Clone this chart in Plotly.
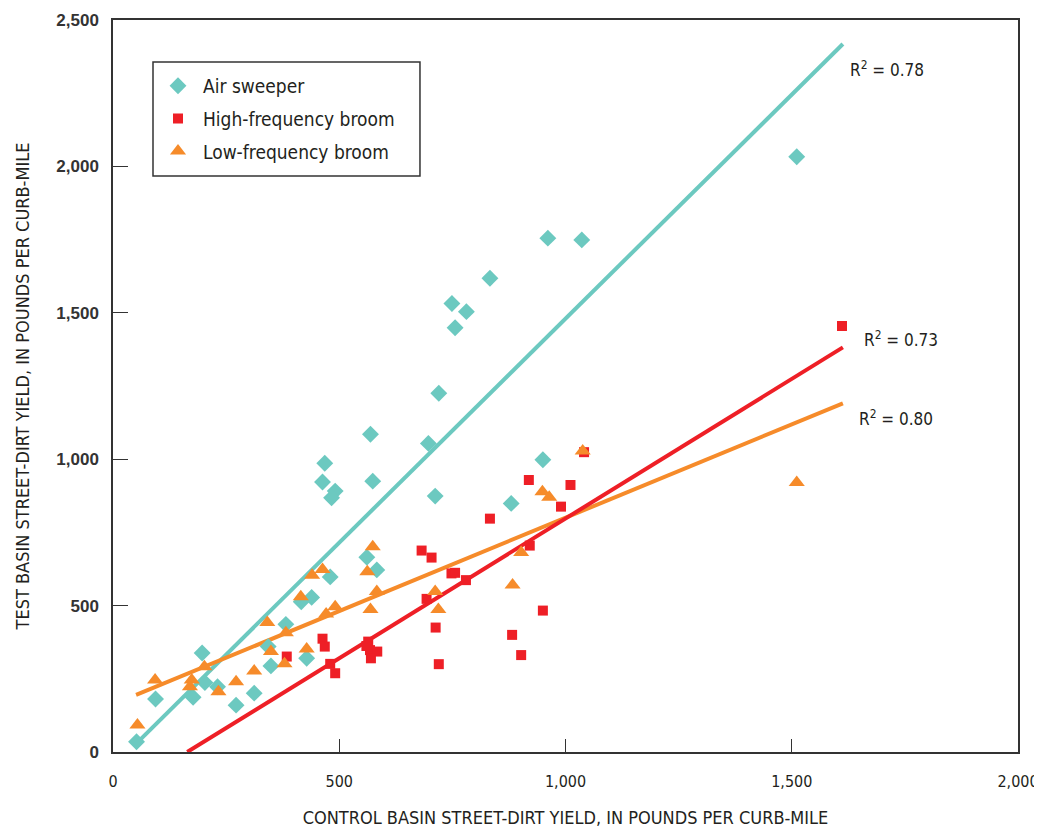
import plotly.graph_objects as go

# ---- data ----
air_x = [52, 94, 177, 197, 203, 231, 272, 312, 349, 343, 382, 428, 416, 439, 480,
         468, 463, 491, 483, 569, 574, 697, 712, 561, 583, 720, 749, 781, 756, 833,
         961, 1036, 950, 880, 1511]
air_y = [35, 181, 187, 338, 237, 223, 160, 201, 294, 360, 436, 320, 513, 528, 598,
         986, 922, 891, 868, 1085, 925, 1054, 874, 665, 622, 1225, 1532, 1504, 1449, 1618,
         1755, 1749, 998, 849, 2033]

hfb_x = [384, 463, 468, 480, 491, 564, 568, 584, 570, 560, 682, 704, 693, 713, 720,
         748, 756, 780, 833, 882, 902, 921, 919, 950, 990, 1011, 1041, 1611]
hfb_y = [326, 387, 360, 301, 269, 377, 348, 343, 320, 362, 688, 664, 523, 425, 300,
         610, 612, 587, 797, 400, 331, 705, 929, 483, 838, 912, 1024, 1455]

lfb_x = [54, 93, 174, 170, 202, 233, 272, 312, 341, 349, 379, 382, 428, 415, 440,
         463, 471, 491, 574, 562, 583, 569, 712, 719, 883, 902, 949, 964, 1038, 1511]
lfb_y = [92, 246, 246, 223, 291, 206, 240, 277, 442, 343, 301, 407, 352, 530, 604,
         623, 471, 496, 701, 616, 548, 487, 548, 487, 570, 681, 889, 870, 1028, 920]

# regression line end points (as drawn)
air_fit_x = [53, 1613]
air_fit_y = [31, 2418]
hfb_fit_x = [164, 1613]
hfb_fit_y = [0, 1382]
lfb_fit_x = [51, 1613]
lfb_fit_y = [195, 1191]

r2_labels = ["R<sup>2</sup> = 0.78", "R<sup>2</sup> = 0.73", "R<sup>2</sup> = 0.80"]
r2_x = [1624, 1655, 1644]
r2_y = [2333, 1410, 1141]

x_ticks = [0, 500, 1000, 1500, 2000]
x_tick_text = ["0", "500", "1,000", "1,500", "2,000"]
y_ticks = [0, 500, 1000, 1500, 2000, 2500]
y_tick_text = ["0", "500", "1,000", "1,500", "2,000", "2,500"]

# ---- style ----
C_AIR = "#6cc9c0"
C_HFB = "#ee1f26"
C_LFB = "#f68b2a"
TXT = "#231f20"
NARROW = "DejaVu Sans Condensed, Roboto, sans-serif"

fig = go.Figure()

fig.add_trace(go.Scatter(x=air_fit_x, y=air_fit_y, mode="lines",
                         line=dict(color=C_AIR, width=4), showlegend=False, hoverinfo="skip"))
fig.add_trace(go.Scatter(x=lfb_fit_x, y=lfb_fit_y, mode="lines",
                         line=dict(color=C_LFB, width=4), showlegend=False, hoverinfo="skip"))
fig.add_trace(go.Scatter(x=hfb_fit_x, y=hfb_fit_y, mode="lines",
                         line=dict(color=C_HFB, width=4), showlegend=False, hoverinfo="skip"))

fig.add_trace(go.Scatter(x=air_x, y=air_y, mode="markers", name="Air sweeper",
                         legendgroup="a",
                         marker=dict(symbol="diamond", size=13, color=C_AIR, line=dict(width=0))))
fig.add_trace(go.Scatter(x=hfb_x, y=hfb_y, mode="markers", name="High-frequency broom",
                         legendgroup="b",
                         marker=dict(symbol="square", size=10, color=C_HFB, line=dict(width=0))))
fig.add_trace(go.Scatter(x=lfb_x, y=lfb_y, mode="markers", name="Low-frequency broom",
                         legendgroup="c",
                         marker=dict(symbol="triangle-up", size=14, color=C_LFB, line=dict(width=0))))

for t, xx, yy in zip(r2_labels, r2_x, r2_y):
    fig.add_annotation(x=xx, y=yy, text=t, showarrow=False, xanchor="left", yanchor="middle",
                       font=dict(family=NARROW, size=17, color=TXT))

# legend frame
fig.add_shape(type="rect", xref="paper", yref="paper",
              x0=0.0442, x1=0.3392, y0=0.7869, y1=0.9426,
              fillcolor="white", line=dict(color="#333333", width=1.5), layer="above")

fig.update_layout(
    width=1034, height=820,
    margin=dict(l=105, r=24, t=12, b=76),
    paper_bgcolor="white", plot_bgcolor="white",
    legend=dict(x=0.0442, y=0.936, xanchor="left", yanchor="top",
                bgcolor="rgba(0,0,0,0)", borderwidth=0,
                font=dict(family=NARROW, size=19, color=TXT),
                tracegroupgap=5, itemwidth=40,
                traceorder="grouped"),
    xaxis=dict(range=[0, 2000], tickvals=x_ticks, ticktext=x_tick_text,
               ticks="inside", ticklen=13, tickwidth=1, tickcolor="#333",
               showline=True, linecolor="#333", linewidth=1.5, mirror=True,
               showgrid=False, zeroline=False, automargin=False,
               tickfont=dict(family=NARROW, size=16, color=TXT),
               ticklabelstandoff=14,
               title=dict(text="CONTROL BASIN STREET-DIRT YIELD, IN POUNDS PER CURB-MILE",
                          font=dict(family=NARROW, size=18, color=TXT), standoff=24)),
    yaxis=dict(range=[0, 2500], tickvals=y_ticks, ticktext=y_tick_text,
               ticks="inside", ticklen=15, tickwidth=1, tickcolor="#333",
               showline=True, linecolor="#333", linewidth=1.5, mirror=True,
               showgrid=False, zeroline=False, automargin=False,
               tickfont=dict(family="Liberation Sans, Arial, sans-serif", size=17, color="#333", weight="bold"),
               ticklabelstandoff=9,
               title=dict(text="TEST BASIN STREET-DIRT YIELD, IN POUNDS PER CURB-MILE",
                          font=dict(family=NARROW, size=18, color=TXT), standoff=22)),
)

fig.write_html("out.html")
